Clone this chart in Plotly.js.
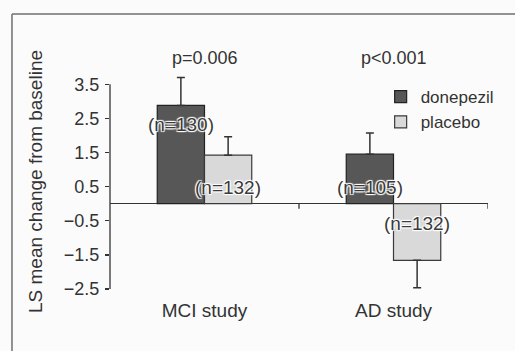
<!DOCTYPE html>
<html>
<head>
<meta charset="utf-8">
<script src="https://cdn.plot.ly/plotly-3.0.1.min.js"></script>
<style>html,body{margin:0;padding:0;background:#fbfbfb;}#chart{width:515px;height:351px;}</style>
</head>
<body>
<div id="chart"></div>
<script>
// ---- data ----
var categories = ['MCI study', 'AD study'];
var donepezilMean = [2.88, 1.45];
var donepezilErr = [0.82, 0.62];
var placeboMean = [1.42, -1.66];
var placeboErr = [0.54, 0.80];
var donepezilN = ['(n=130)', '(n=105)'];
var placeboN = ['(n=132)', '(n=132)'];
var pValues = ['p=0.006', 'p<0.001'];
var yTicks = [-2.5, -1.5, -0.5, 0.5, 1.5, 2.5, 3.5];
// label heights (data units) for the n= labels
var donepezilNy = [2.32, 0.48];
var placeboNy = [0.48, -0.57];

function upper(m, e) { return m.map(function (v, i) { return v >= 0 ? e[i] : 0; }); }
function lower(m, e) { return m.map(function (v, i) { return v < 0 ? e[i] : 0; }); }

var FONT = 'Liberation Sans, Arial, Helvetica, sans-serif';
var INK = '#333333';

var traces = [
  {
    type: 'bar', name: 'donepezil', x: categories, y: donepezilMean,
    marker: { color: '#575757', line: { color: '#222222', width: 1.2 } },
    error_y: { type: 'data', symmetric: false, array: upper(donepezilMean, donepezilErr),
               arrayminus: lower(donepezilMean, donepezilErr), color: INK, thickness: 1.5, width: 4 },
    hoverinfo: 'none'
  },
  {
    type: 'bar', name: 'placebo', x: categories, y: placeboMean,
    marker: { color: '#d9d9d9', line: { color: '#3a3a3a', width: 1.2 } },
    error_y: { type: 'data', symmetric: false, array: upper(placeboMean, placeboErr),
               arrayminus: lower(placeboMean, placeboErr), color: INK, thickness: 1.5, width: 4 },
    hoverinfo: 'none'
  }
];

var halo = '1px 1px 1px #fff, -1px -1px 1px #fff, 1px -1px 1px #fff, -1px 1px 1px #fff';
var annotations = [];
categories.forEach(function (c, i) {
  annotations.push({ x: i - 0.125, y: donepezilNy[i], xref: 'x', yref: 'y', text: donepezilN[i],
    showarrow: false, xanchor: 'center', yanchor: 'middle',
    font: { family: FONT, size: 19, color: '#3a3a3a', shadow: halo } });
  annotations.push({ x: i + 0.125, y: placeboNy[i], xref: 'x', yref: 'y', text: placeboN[i],
    showarrow: false, xanchor: 'center', yanchor: 'middle',
    font: { family: FONT, size: 19, color: '#3a3a3a', shadow: halo } });
  annotations.push({ x: i, y: 1.075, xref: 'x', yref: 'paper', text: pValues[i],
    showarrow: false, xanchor: 'center', yanchor: 'middle',
    font: { family: FONT, size: 18, color: INK } });
});

var shapes = [
  // outer frame (top and left edges)
  { type: 'line', xref: 'paper', yref: 'paper', x0: -0.2593, x1: 1.2, y0: 1.279, y1: 1.279,
    line: { color: '#6f6f6f', width: 1.5 } },
  { type: 'line', xref: 'paper', yref: 'paper', x0: -0.2593, x1: -0.2593, y0: 1.279, y1: -0.4,
    line: { color: '#6f6f6f', width: 1.5 } },
  // y axis spine between the end ticks
  { type: 'line', xref: 'paper', yref: 'y', x0: 0, x1: 0, y0: yTicks[0], y1: yTicks[yTicks.length - 1],
    line: { color: INK, width: 1.3 } }
];
// small tick marks on the zero line at category boundaries
[0.5, 1.5].forEach(function (b) {
  shapes.push({ type: 'line', xref: 'x', yref: 'y', ysizemode: 'pixel', yanchor: 0,
    x0: b, x1: b, y0: 0, y1: -5, line: { color: INK, width: 1.3 } });
});

var layout = {
  width: 515, height: 351, autosize: false,
  margin: { l: 110, r: 27, t: 74, b: 62 },
  paper_bgcolor: '#fbfbfb', plot_bgcolor: 'rgba(0,0,0,0)',
  font: { family: FONT, size: 18, color: INK },
  barmode: 'group', bargap: 0.5, bargroupgap: 0,
  showlegend: true,
  legend: { x: 0.716, y: 0.976, xanchor: 'left', yanchor: 'top', bgcolor: 'rgba(0,0,0,0)',
            font: { family: FONT, size: 17, color: INK }, tracegroupgap: 0 },
  xaxis: { type: 'category', range: [-0.5, 1.5], showline: false, ticks: '', showgrid: false,
           zeroline: false, tickfont: { family: FONT, size: 19, color: INK }, ticklabelstandoff: 8 },
  yaxis: { range: [-2.5, 3.8], tickvals: yTicks, tickformat: '.1f', showline: false,
           ticks: 'outside', ticklen: 4, tickcolor: INK,
           tickwidth: 1.3, showgrid: false, zeroline: true, zerolinecolor: INK, zerolinewidth: 1.5,
           ticklabelstandoff: 2,
           tickfont: { family: FONT, size: 18, color: INK },
           title: { text: 'LS mean change from baseline', standoff: 16,
                    font: { family: FONT, size: 19, color: INK } } },
  annotations: annotations,
  shapes: shapes
};

Plotly.newPlot('chart', traces, layout, { displayModeBar: false, staticPlot: true });
</script>
</body>
</html>
